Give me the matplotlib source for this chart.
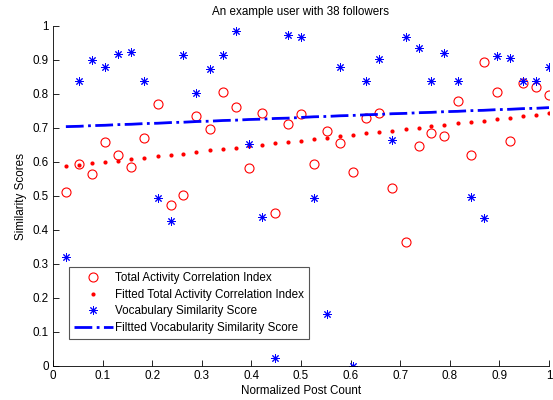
"""
    Similarity scores vs. normalized post count for one user (38 followers).
"""

import matplotlib
matplotlib.use("Agg")
import matplotlib.pyplot as plt

plt.rcParams["font.family"] = ["Liberation Sans", "DejaVu Sans"]

# normalized post count, one value per follower
post_count = [
    0.026, 0.053, 0.079, 0.105, 0.132, 0.158, 0.184, 0.211, 0.237, 0.263,
    0.289, 0.316, 0.342, 0.368, 0.395, 0.421, 0.447, 0.474, 0.500, 0.526,
    0.553, 0.579, 0.605, 0.632, 0.658, 0.684, 0.711, 0.737, 0.763, 0.789,
    0.816, 0.842, 0.868, 0.895, 0.921, 0.947, 0.974, 1.000,
]
activity = [
    0.513, 0.594, 0.566, 0.660, 0.620, 0.584, 0.672, 0.770, 0.474, 0.503,
    0.736, 0.696, 0.807, 0.761, 0.581, 0.743, 0.449, 0.711, 0.740, 0.594,
    0.692, 0.655, 0.571, 0.728, 0.743, 0.524, 0.366, 0.647, 0.684, 0.676,
    0.779, 0.622, 0.893, 0.807, 0.663, 0.831, 0.822, 0.797,
]
fitted_activity = [
    0.587, 0.591, 0.596, 0.600, 0.604, 0.608, 0.612, 0.617, 0.621, 0.625,
    0.629, 0.634, 0.638, 0.642, 0.646, 0.650, 0.655, 0.659, 0.663, 0.667,
    0.671, 0.676, 0.680, 0.684, 0.688, 0.692, 0.697, 0.701, 0.705, 0.709,
    0.714, 0.718, 0.722, 0.726, 0.730, 0.735, 0.739, 0.743,
]
vocabulary = [
    0.321, 0.838, 0.901, 0.879, 0.918, 0.923, 0.838, 0.495, 0.426, 0.915,
    0.802, 0.873, 0.915, 0.985, 0.653, 0.439, 0.025, 0.975, 0.969, 0.495,
    0.153, 0.880, 0.000, 0.838, 0.902, 0.665, 0.967, 0.934, 0.838, 0.922,
    0.838, 0.496, 0.436, 0.913, 0.905, 0.838, 0.838, 0.880,
]
fitted_vocabulary = [
    0.704, 0.705, 0.707, 0.708, 0.710, 0.711, 0.713, 0.714, 0.716, 0.717,
    0.719, 0.720, 0.722, 0.723, 0.725, 0.726, 0.728, 0.729, 0.731, 0.733,
    0.734, 0.736, 0.737, 0.739, 0.740, 0.742, 0.743, 0.745, 0.746, 0.748,
    0.749, 0.751, 0.752, 0.754, 0.755, 0.757, 0.758, 0.760,
]
ticks = [0, 0.1, 0.2, 0.3, 0.4, 0.5, 0.6, 0.7, 0.8, 0.9, 1]
tick_labels = ["0", "0.1", "0.2", "0.3", "0.4", "0.5", "0.6", "0.7", "0.8", "0.9", "1"]

if __name__ == "__main__":

    fs = 8.4
    fig = plt.figure(figsize=(5.53, 4.00), dpi=100)
    ax = fig.add_axes([0.0958, 0.085, 0.897, 0.85])

    ax.plot(
        post_count, activity,
        linestyle="none", marker="o", markersize=6.5,
        markerfacecolor="none", markeredgecolor="red", markeredgewidth=0.8,
        label="Total Activity Correlation Index",
    )
    ax.plot(
        post_count, fitted_activity,
        linestyle="none", marker="o", markersize=3.0,
        color="red", markeredgewidth=0,
        label="Fitted Total Activity Correlation Index",
    )
    ax.plot(
        post_count, vocabulary,
        linestyle="none", marker=(8, 2, 0), markersize=6,
        color="blue", markeredgewidth=0.7,
        label="Vocabulary Similarity Score",
    )
    ax.plot(
        post_count, fitted_vocabulary,
        linestyle="-.", linewidth=2, color="blue",
        label="Filtted Vocabularity Similarity Score",
    )

    ax.set_xlim(0, 1)
    ax.set_ylim(0, 1)
    ax.set_xticks(ticks)
    ax.set_xticklabels(tick_labels)
    ax.set_yticks(ticks)
    ax.set_yticklabels(tick_labels)
    ax.tick_params(direction="in", length=4, width=0.6, labelsize=fs, pad=3)
    ax.spines["top"].set_visible(False)
    ax.spines["right"].set_visible(False)
    for side in ("left", "bottom"):
        ax.spines[side].set_linewidth(0.6)

    ax.set_title("An example user with 38 followers", fontsize=fs, pad=8)
    ax.set_xlabel("Normalized Post Count", fontsize=fs, labelpad=2)
    ax.set_ylabel("Similarity Scores", fontsize=fs, labelpad=4)

    leg = ax.legend(
        loc="lower left", bbox_to_anchor=(0.033, 0.08),
        borderaxespad=0, fontsize=fs, fancybox=False,
        handlelength=3.3, handletextpad=0.2, labelspacing=0.4,
        borderpad=0.4, framealpha=1,
    )
    leg.get_frame().set_edgecolor("#555555")
    leg.get_frame().set_linewidth(0.8)

    plt.savefig("out.png", dpi=100)
